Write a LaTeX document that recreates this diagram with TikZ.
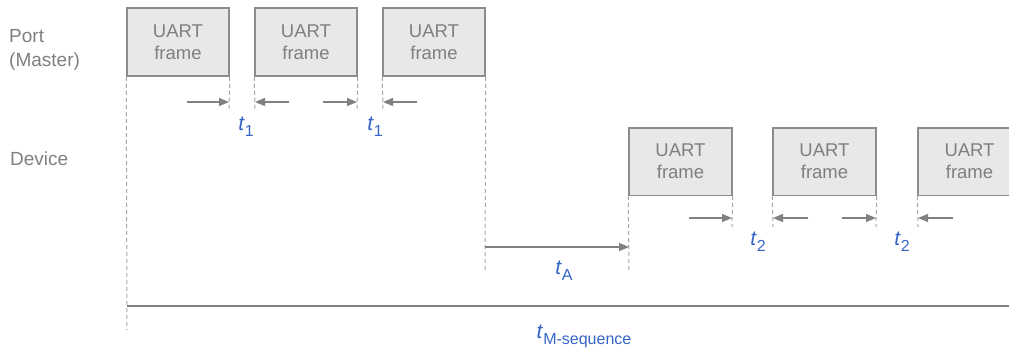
\documentclass[tikz,border=0pt]{standalone}
\usepackage{fontspec}
\setmainfont{Liberation Sans}
\usetikzlibrary{arrows.meta}
\definecolor{txtgray}{HTML}{7F7F7F}
\definecolor{boxfill}{HTML}{E8E8E8}
\definecolor{boxdraw}{HTML}{8C8C8C}
\definecolor{dashgray}{HTML}{A6A6A6}
\definecolor{arrgray}{HTML}{808080}
\definecolor{lblblue}{HTML}{3565C6}
\tikzset{
  uframe/.style={draw=boxdraw, fill=boxfill, line width=1.5pt, minimum width=102pt, minimum height=68pt, inner sep=0pt,
     align=center, text=txtgray, font=\fontsize{18.5}{22}\selectfont},
  sidelbl/.style={anchor=west, align=left, text=txtgray, font=\fontsize{19}{24}\selectfont, inner sep=0pt},
  guide/.style={draw=dashgray, line width=1pt, dash pattern=on 4pt off 3pt},
  tarrow/.style={draw=arrgray, line width=1.3pt, -{Triangle[length=10pt,width=8pt]}},
  tline/.style={draw=arrgray, line width=1.3pt},
  tlbl/.style={text=lblblue, inner sep=0pt, font=\fontsize{21}{24}\selectfont}
}
\newcommand{\tsub}[1]{\textit{t}\raisebox{-6pt}{\fontsize{16}{18}\selectfont #1}}
\begin{document}
\begin{tikzpicture}[x=1pt,y=-1pt]
\useasboundingbox (0,0) rectangle (1009,349);
% side labels
\node[sidelbl] (port) at (9,50) {Port\\(Master)};
\node[sidelbl] (dev) at (10,159) {Device};
% port frames
\node[uframe] (p1) at (178,42) {UART\\frame};
\node[uframe] (p2) at (306,42) {UART\\frame};
\node[uframe] (p3) at (434,42) {UART\\frame};
% device frames
\node[uframe, minimum width=103pt, minimum height=67.5pt] (d1) at (680.5,161.5) {UART\\frame};
\node[uframe, minimum width=103pt, minimum height=67.5pt] (d2) at (824.5,161.5) {UART\\frame};
\node[uframe, minimum width=103pt, minimum height=67.5pt] (d3) at (969.5,161.5) {UART\\frame};
% guide line ends
\coordinate (g1) at (127,330);
\coordinate (g2) at (229,110);
\coordinate (g3) at (255,110);
\coordinate (g4) at (357,110);
\coordinate (g5) at (383,110);
\coordinate (g6) at (485,272);
\coordinate (g7) at (629,272);
\coordinate (g8) at (732,227);
\coordinate (g9) at (773,227);
\coordinate (g10) at (876,227);
\coordinate (g11) at (918,227);
\draw[guide] (p1.south west) -- (g1);
\draw[guide] (p1.south east) -- (g2);
\draw[guide] (p2.south west) -- (g3);
\draw[guide] (p2.south east) -- (g4);
\draw[guide] (p3.south west) -- (g5);
\draw[guide] (p3.south east) -- (g6);
\draw[guide] (d1.south west) -- (g7);
\draw[guide] (d1.south east) -- (g8);
\draw[guide] (d2.south west) -- (g9);
\draw[guide] (d2.south east) -- (g10);
\draw[guide] (d3.south west) -- (g11);
% t1 arrows
\coordinate (a1s) at (187,102); \coordinate (a1e) at (229,102);
\coordinate (a2s) at (289,102); \coordinate (a2e) at (255,102);
\coordinate (a3s) at (323,102); \coordinate (a3e) at (357,102);
\coordinate (a4s) at (417,102); \coordinate (a4e) at (383,102);
\draw[tarrow] (a1s) -- (a1e);
\draw[tarrow] (a2s) -- (a2e);
\draw[tarrow] (a3s) -- (a3e);
\draw[tarrow] (a4s) -- (a4e);
% t2 arrows
\coordinate (b1s) at (689,218); \coordinate (b1e) at (732,218);
\coordinate (b2s) at (808,218); \coordinate (b2e) at (773,218);
\coordinate (b3s) at (842,218); \coordinate (b3e) at (876,218);
\coordinate (b4s) at (953,218); \coordinate (b4e) at (918,218);
\draw[tarrow] (b1s) -- (b1e);
\draw[tarrow] (b2s) -- (b2e);
\draw[tarrow] (b3s) -- (b3e);
\draw[tarrow] (b4s) -- (b4e);
% tA arrow
\coordinate (tas) at (485,247); \coordinate (tae) at (629,247);
\draw[tarrow] (tas) -- (tae);
% M-sequence line
\coordinate (ms) at (127,306); \coordinate (me) at (1009,306);
\draw[tline] (ms) -- (me);
% labels
\node[tlbl] (lt1a) at (246,127) {\tsub{1}};
\node[tlbl] (lt1b) at (375,127) {\tsub{1}};
\node[tlbl] (lt2a) at (758,242) {\tsub{2}};
\node[tlbl] (lt2b) at (902,242) {\tsub{2}};
\node[tlbl] (ltA) at (564,271) {\tsub{A}};
\node[tlbl] (ltM) at (584,336) {\tsub{M-sequence}};
\end{tikzpicture}
\end{document}
